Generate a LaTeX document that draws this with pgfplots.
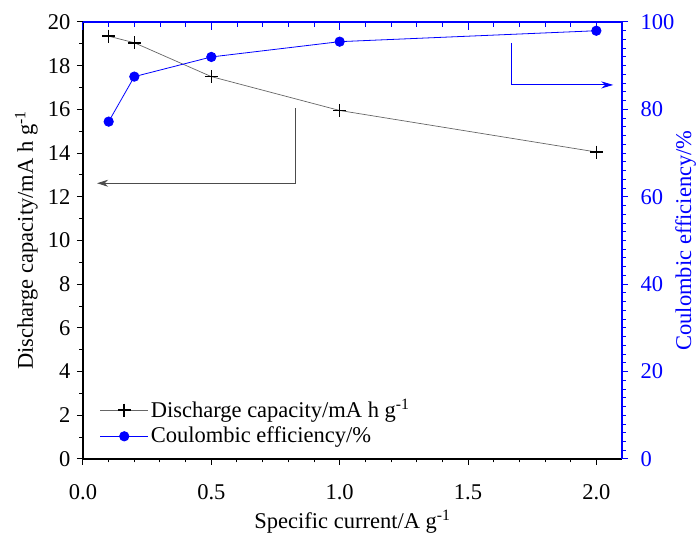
\documentclass[border=0pt]{standalone}
\usepackage{pgfplots}
\pgfplotsset{compat=1.18}
\usepackage{fontspec}
\setmainfont{Liberation Serif}
\usetikzlibrary{arrows.meta,calc}
\definecolor{cblue}{RGB}{0,0,255}
\begin{document}
\fontsize{22.5}{27}\selectfont
\begin{tikzpicture}
\pgfplotsset{
  every axis/.append style={
    width=539pt, height=437pt, scale only axis,
    xmin=0, xmax=2.1,
    /pgf/number format/assume math mode=true,
    tick label style={font=\fontsize{22.5}{27}\selectfont},
    label style={font=\fontsize{22.5}{27}\selectfont},
    major tick length=6pt, minor tick length=3.5pt,
    axis line style={line width=1.1pt},
    every tick/.style={line width=1pt},
  }
}
\begin{axis}[
  name=main,
  axis x line*=bottom, axis y line*=left,
  ymin=0, ymax=20,
  xtick={0,0.5,1,1.5,2}, minor x tick num=4,
  ytick={0,2,...,20}, minor y tick num=1,
  tick align=outside,
  xticklabel style={yshift=-12pt, /pgf/number format/.cd,fixed,fixed zerofill,precision=1},
  yticklabel style={xshift=1pt},
  xlabel={Specific current/A g\textsuperscript{-1}},
  ylabel={Discharge capacity/mA h g\textsuperscript{-1}},
  xlabel style={at={(axis description cs:0.5,-0.144)}, anchor=center},
  ylabel style={at={(axis description cs:-0.105,0.5)}, anchor=center},
]
\addplot[color=black!60, line width=0.7pt, mark=+, mark size=6.5pt,
  mark options={black, line width=1.6pt}] coordinates {
  (0.1,19.35) (0.2,19.05) (0.5,17.5) (1.0,15.95) (2.0,14.05)
};
\draw[black!70, line width=0.9pt, -{Stealth[length=11pt,width=7pt]}]
  (axis cs:0.827,16.06) -- (axis cs:0.827,12.62) -- (axis cs:0.055,12.62);
\end{axis}
\begin{axis}[
  axis x line=none, axis y line*=right,
  ymin=0, ymax=100,
  ytick={0,20,...,100}, minor y tick num=9,
  tick align=outside,
  y axis line style={cblue},
  ytick style={cblue},
  yticklabel style={cblue, xshift=5pt},
  ylabel={Coulombic efficiency/\%},
  ylabel style={cblue, at={(axis description cs:1.118,0.5)}, anchor=center},
  legend style={draw=none, fill=none, at={(0.025,0.146)}, anchor=north west,
    font=\fontsize{22.5}{27}\selectfont, row sep=2pt,
    legend cell align=left},
  legend image code/.code={\draw[mark repeat=2,mark phase=2] plot coordinates {(0cm,0cm)(0.85cm,0cm)(1.7cm,0cm)};},
]
\addlegendimage{color=black!60, line width=0.7pt, mark=+, mark size=6.5pt, mark options={black, line width=1.6pt}}
\addlegendentry{Discharge capacity/mA h g\textsuperscript{-1}}
\addplot[color=cblue, line width=0.8pt, mark=*, mark size=4.7pt,
  mark options={fill=cblue, draw=cblue}] coordinates {
  (0.1,77.2) (0.2,87.5) (0.5,92.0) (1.0,95.5) (2.0,98.0)
};
\addlegendentry{Coulombic efficiency/\%}
\draw[cblue, line width=0.9pt, -{Stealth[length=12pt,width=7pt]}]
  (axis cs:1.669,95.2) -- (axis cs:1.669,85.6) -- (axis cs:2.066,85.6);
\end{axis}
\begin{axis}[
  axis x line*=top, axis y line=none,
  ymin=0, ymax=20,
  xtick={0,0.5,1,1.5,2}, minor x tick num=4,
  xticklabels={},
  tick align=inside,
  major tick length=8pt, minor tick length=5pt,
  x axis line style={cblue},
  xtick style={cblue},
]
\end{axis}
\pgfresetboundingbox
\path ($(main.south west)+(-83pt,-78pt)$) rectangle ($(main.north east)+(75pt,22pt)$);
\end{tikzpicture}
\end{document}
